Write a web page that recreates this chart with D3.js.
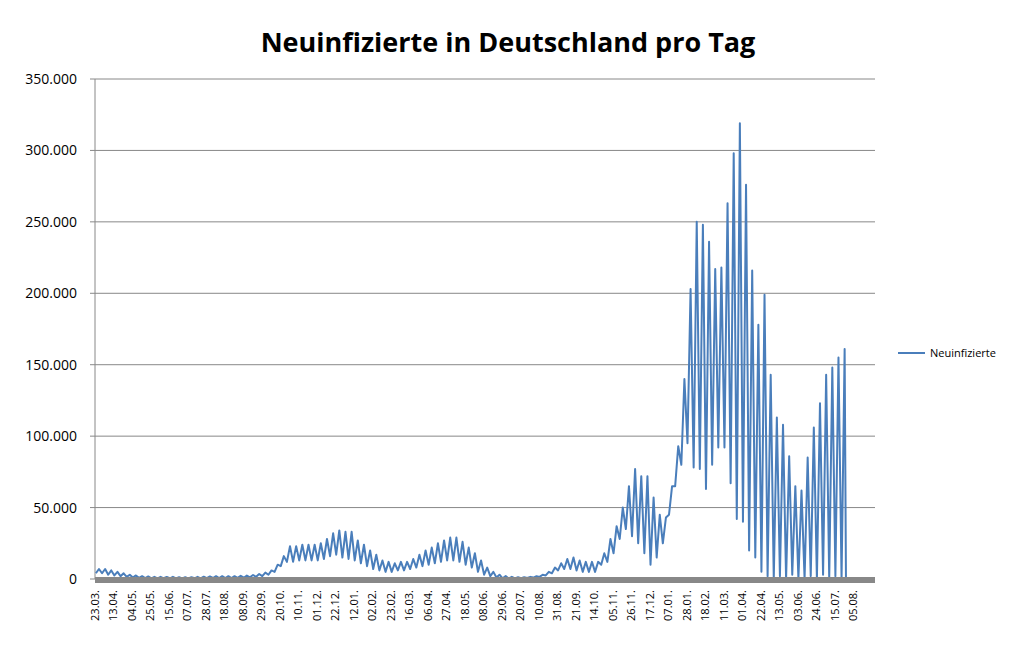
<!DOCTYPE html>
<html><head><meta charset="utf-8">
<script src="https://cdn.jsdelivr.net/npm/d3@7"></script>
<style>body{margin:0;background:#fff}text{font-family:"Open Sans","Liberation Sans",sans-serif}</style>
</head><body><svg id="c" width="1016" height="650"></svg>
<script>
const tickLabels=["23.03.","13.04.","04.05.","25.05.","15.06.","07.07.","28.07.","18.08.","08.09.","29.09.","20.10.","10.11.","01.12.","22.12.","12.01.","02.02.","23.02.","16.03.","06.04.","27.04.","18.05.","08.06.","29.06.","20.07.","10.08.","31.08.","21.09.","14.10.","05.11.","26.11.","17.12.","07.01.","28.01.","18.02.","11.03.","01.04.","22.04.","13.05.","03.06.","24.06.","15.07.","05.08."];
// weekly peak and trough values (thousands)
const peaks=[7,7,6,5,4,3,2.5,2,1.8,1.5,1.5,1.4,1.5,1.3,1.2,1.3,1.5,1.6,1.8,2,2,2,2,2.2,2.4,2.8,3.5,4.5,6,10,16,23,23,24,24,24,25,28,32,34,33,33,27,24,20,17,13,12,11,12,12,14,17,20,22,25,27,29,29,26,22,18,13,8,5,3,2,1.5,1.2,1.2,1.5,2,3,5,8,11,14,15,13,12,12,12,18,28,37,50,65,77,72,72,57,45,43,65,93,140,203,250,248,236,217,218,263,298,319,276,216,178,199,143,113,108,86,65,62,85,106,123,143,148,155,161];
const troughs=[4,4,3,2.5,2,1.5,1,0.8,0.6,0.5,0.5,0.5,0.5,0.4,0.4,0.4,0.5,0.5,0.6,0.7,0.7,0.7,0.7,0.8,0.9,1.2,1.5,2,3,5,9,12,12,13,13,13,13,14,16,17,15,14,13,11,9,7,6,5,5,6,6,7,8,9,10,11,12,13,13,12,10,8,5,3,2,1,0.5,0.4,0.4,0.5,0.7,1,1.5,2.5,4,6,7,7,6,5,5,5,10,12,18,28,35,30,25,18,10,15,25,45,65,80,95,78,77,63,80,92,92,67,42,40,20,15,5,2,0,2,0,3,0,0,2,0,3,0,2,0,0];
const totalDays=(tickLabels.length-1)*21;
const pts=[];
peaks.forEach((p,w)=>{pts.push([w*7+1,troughs[w]]);pts.push([w*7+4.5,p]);});
pts.push([peaks.length*7-1,0]);
const svg=d3.select("#c");
const L=95,R=875,T=79,B=579;
const x=d3.scaleLinear().domain([0,totalDays]).range([L,L+(853-L)*1]);
x.range([L,853]);
const y=d3.scaleLinear().domain([0,350]).range([B,T]);
const yt=d3.range(0,351,50);
svg.append("g").selectAll("line").data(yt.slice(1)).join("line")
 .attr("x1",L).attr("x2",R).attr("y1",d=>y(d)).attr("y2",d=>y(d)).attr("stroke","#888").attr("stroke-width",1);
svg.append("line").attr("x1",L).attr("x2",L).attr("y1",T).attr("y2",B).attr("stroke","#888");
svg.append("g").selectAll("line").data(yt).join("line")
 .attr("x1",L-5).attr("x2",L).attr("y1",d=>y(d)).attr("y2",d=>y(d)).attr("stroke","#888");
svg.append("g").selectAll("text").data(yt).join("text")
 .attr("x",L-18).attr("y",d=>y(d)+5).attr("text-anchor","end").attr("font-size",14).attr("fill","#000")
 .text(d=>d===0?"0":d3.format(",")(d*1000).replace(/,/g,"."));
svg.append("path").datum(pts).attr("fill","none").attr("stroke","#4a7ebb").attr("stroke-width",2).attr("stroke-linejoin","round")
 .attr("d",d3.line().x(d=>x(d[0])).y(d=>y(d[1])));
svg.append("rect").attr("x",L).attr("y",B-2).attr("width",R-L).attr("height",6).attr("fill","#888");
svg.append("g").selectAll("text").data(tickLabels).join("text")
 .attr("transform",(d,i)=>`translate(${x(i*21)+4},590) rotate(-90)`).attr("text-anchor","end")
 .attr("font-size",11).attr("fill","#000").text(d=>d);
svg.append("text").attr("x",508).attr("y",52).attr("text-anchor","middle").attr("font-size",27).attr("font-weight","bold").text("Neuinfizierte in Deutschland pro Tag");
svg.append("line").attr("x1",898).attr("x2",925).attr("y1",353).attr("y2",353).attr("stroke","#4a7ebb").attr("stroke-width",2);
svg.append("text").attr("x",930).attr("y",357).attr("font-size",11).text("Neuinfizierte");
</script></body></html>
